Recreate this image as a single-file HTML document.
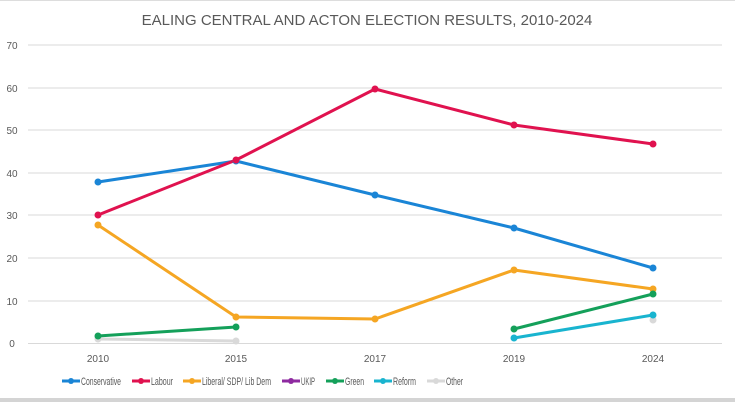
<!DOCTYPE html>
<html><head><style>
html,body{margin:0;padding:0;background:#fff;}
svg{display:block;font-family:"Liberation Sans",sans-serif;}
</style></head><body>
<svg width="735" height="402" viewBox="0 0 735 402">
<rect x="0" y="0" width="735" height="402" fill="#fff"/>
<line x1="0" y1="0.5" x2="735" y2="0.5" stroke="#ddd"/>
<rect x="0" y="398" width="735" height="4" fill="#d4d4d4"/>
<text x="367" y="25" text-anchor="middle" font-size="15" fill="#595959">EALING CENTRAL AND ACTON ELECTION RESULTS, 2010-2024</text>
<g stroke="#d9d9d9" stroke-width="1">
<line x1="28" x2="722" y1="45" y2="45"/><line x1="28" x2="722" y1="88" y2="88"/>
<line x1="28" x2="722" y1="130" y2="130"/><line x1="28" x2="722" y1="173" y2="173"/>
<line x1="28" x2="722" y1="215" y2="215"/><line x1="28" x2="722" y1="258" y2="258"/>
<line x1="28" x2="722" y1="301" y2="301"/><line x1="28" x2="722" y1="343.5" y2="343.5"/>
</g>
<g font-size="10" fill="#595959" text-anchor="middle">
<text x="12" y="49">70</text><text x="12" y="92">60</text><text x="12" y="134">50</text>
<text x="12" y="177">40</text><text x="12" y="219">30</text><text x="12" y="262">20</text>
<text x="12" y="305">10</text><text x="12" y="347">0</text>
<text x="98" y="362">2010</text><text x="236" y="362">2015</text><text x="375" y="362">2017</text>
<text x="514" y="362">2019</text><text x="653" y="362">2024</text>
</g>
<g fill="none" stroke-width="3" stroke-linejoin="round">
<polyline stroke="#d9d9d9" points="98,339 236,341"/>
<polyline stroke="#f5a623" points="98,225 236,317 375,319 514,270 653,289"/>
<polyline stroke="#1a85d6" points="98,182 236,161 375,195 514,228 653,268"/>
<polyline stroke="#e0124f" points="98,215 236,160 375,89 514,125 653,144"/>
<polyline stroke="#14a05a" points="98,336 236,327"/>
<polyline stroke="#14a05a" points="514,329 653,294"/>
<polyline stroke="#19b4cf" points="514,338 653,315"/>
</g>
<g>
<circle cx="98" cy="339" r="3.5" fill="#d9d9d9"/><circle cx="236" cy="341" r="3.5" fill="#d9d9d9"/><circle cx="653" cy="320" r="3.5" fill="#d9d9d9"/>
<g fill="#f5a623"><circle cx="98" cy="225" r="3.5"/><circle cx="236" cy="317" r="3.5"/><circle cx="375" cy="319" r="3.5"/><circle cx="514" cy="270" r="3.5"/><circle cx="653" cy="289" r="3.5"/></g>
<g fill="#1a85d6"><circle cx="98" cy="182" r="3.5"/><circle cx="236" cy="161" r="3.5"/><circle cx="375" cy="195" r="3.5"/><circle cx="514" cy="228" r="3.5"/><circle cx="653" cy="268" r="3.5"/></g>
<g fill="#e0124f"><circle cx="98" cy="215" r="3.5"/><circle cx="236" cy="160" r="3.5"/><circle cx="375" cy="89" r="3.5"/><circle cx="514" cy="125" r="3.5"/><circle cx="653" cy="144" r="3.5"/></g>
<g fill="#14a05a"><circle cx="98" cy="336" r="3.5"/><circle cx="236" cy="327" r="3.5"/><circle cx="514" cy="329" r="3.5"/><circle cx="653" cy="294" r="3.5"/></g>
<g fill="#19b4cf"><circle cx="514" cy="338" r="3.5"/><circle cx="653" cy="315" r="3.5"/></g>
</g>
<g font-size="11" fill="#595959" stroke-width="3">
<line x1="62" x2="80" y1="381" y2="381" stroke="#1a85d6"/><circle cx="71" cy="381" r="3" fill="#1a85d6"/><text x="81" y="385" textLength="40" lengthAdjust="spacingAndGlyphs">Conservative</text>
<line x1="132" x2="150" y1="381" y2="381" stroke="#e0124f"/><circle cx="141" cy="381" r="3" fill="#e0124f"/><text x="151" y="385" textLength="22" lengthAdjust="spacingAndGlyphs">Labour</text>
<line x1="183" x2="201" y1="381" y2="381" stroke="#f5a623"/><circle cx="192" cy="381" r="3" fill="#f5a623"/><text x="202" y="385" textLength="69" lengthAdjust="spacingAndGlyphs">Liberal/ SDP/ Lib Dem</text>
<line x1="282" x2="300" y1="381" y2="381" stroke="#8e2aa0"/><circle cx="291" cy="381" r="3" fill="#8e2aa0"/><text x="301" y="385" textLength="14" lengthAdjust="spacingAndGlyphs">UKIP</text>
<line x1="326" x2="344" y1="381" y2="381" stroke="#14a05a"/><circle cx="335" cy="381" r="3" fill="#14a05a"/><text x="345" y="385" textLength="19" lengthAdjust="spacingAndGlyphs">Green</text>
<line x1="374" x2="392" y1="381" y2="381" stroke="#19b4cf"/><circle cx="383" cy="381" r="3" fill="#19b4cf"/><text x="393" y="385" textLength="23" lengthAdjust="spacingAndGlyphs">Reform</text>
<line x1="427" x2="445" y1="381" y2="381" stroke="#d9d9d9"/><circle cx="436" cy="381" r="3" fill="#d9d9d9"/><text x="446" y="385" textLength="17" lengthAdjust="spacingAndGlyphs">Other</text>
</g>
</svg>
</body></html>
